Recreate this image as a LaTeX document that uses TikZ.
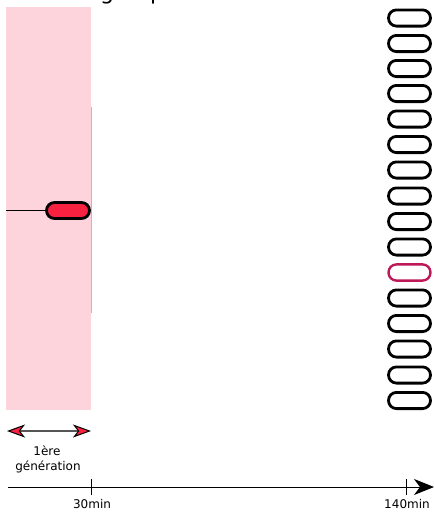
\documentclass[tikz,border=0pt]{standalone}
\usepackage{fontspec}
\setmainfont{DejaVu Sans}
\usetikzlibrary{arrows.meta}
\definecolor{pinkbg}{HTML}{FDD4DB}
\definecolor{cellred}{HTML}{F8213F}
\definecolor{cellmag}{HTML}{BE1858}
\definecolor{arrowgray}{HTML}{555555}
\definecolor{edgegray}{HTML}{BBBBBB}
\tikzset{
  cell/.style={draw=black, line width=2.8pt, rectangle, rounded corners=8pt,
    minimum width=42pt, minimum height=16.2pt, inner sep=0pt, fill=white},
  mothercell/.style={cell, fill=cellred, minimum width=43pt, minimum height=16pt},
  newcell/.style={cell, draw=cellmag, line width=2.4pt},
  lbl/.style={font=\fontsize{12pt}{14pt}\selectfont, inner sep=0pt},
  redtip/.tip={Stealth[length=18pt, width=13pt, inset=5pt, color=black, fill=cellred, line width=1pt]},
}
\begin{document}
\begin{tikzpicture}[x=1pt, y=-1pt]
\useasboundingbox (0,0) rectangle (434,512);

% title, mostly above the page
\begin{scope}
  \clip (0,0) rectangle (434,512);
  \node[anchor=base west, inner sep=0pt, font=\fontsize{22pt}{24pt}\selectfont] (title) at (100,-1) {groupe};
\end{scope}

% first generation band
\fill[pinkbg] (6,7) rectangle (91,410);
\coordinate (edgetop) at (91,107);
\coordinate (edgebot) at (91,313);
\draw[edgegray, line width=0.8pt] (edgetop) -- (edgebot);

% mother cell and its lineage
\node[mothercell] (mother) at (68,210.5) {};
\coordinate (lineage) at (6,210.5);
\draw[line width=1.2pt] (lineage) -- (mother.west);

% population after 140 min
\foreach \i/\y in {1/18,2/43.5,3/68.5,4/93.5,5/119,6/144.5,7/170,8/196,9/221.5,10/247,12/298,13/323.5,14/349,15/375,16/400.5}{
  \node[cell] (c\i) at (409.5,\y) {};
}
\node[newcell] (c11) at (409.5,272.5) {};

% generation span
\coordinate (genL) at (7,431);
\coordinate (genR) at (91,431);
\draw[arrowgray, line width=1.8pt, {redtip}-{redtip}] (genL) -- (genR);
\node[lbl] (gen1) at (47,451) {1ère};
\node[lbl] (gen2) at (48,467) {génération};

% time axis
\coordinate (t0) at (8,487);
\coordinate (tend) at (434,487);
\draw[line width=1pt, -{Stealth[length=20pt, width=16pt, inset=6pt]}] (t0) -- (tend);
\coordinate (t30) at (91.5,487);
\coordinate (t140) at (406.5,487);
\draw[line width=1pt] ([yshift=-8pt]t30) -- ([yshift=8pt]t30);
\draw[line width=1pt] ([yshift=-8pt]t140) -- ([yshift=8pt]t140);
\node[lbl] (l30) at (92,504.5) {30min};
\node[lbl] (l140) at (407,504.5) {140min};
\end{tikzpicture}
\end{document}
